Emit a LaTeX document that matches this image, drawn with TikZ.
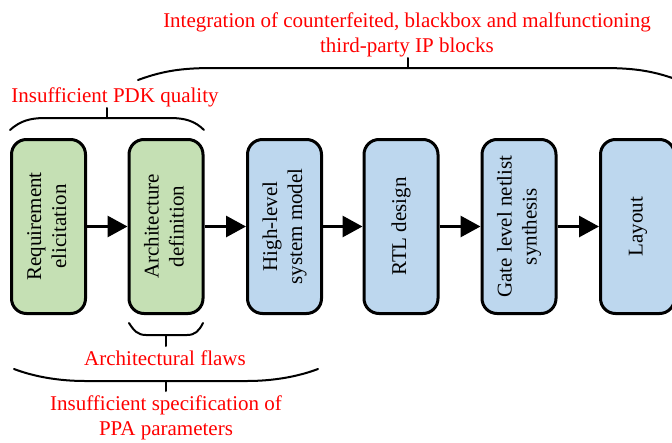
\documentclass[tikz,border=0pt]{standalone}
\usepackage{fontspec}
\setmainfont{Liberation Serif}
\usepackage{graphicx}
\usetikzlibrary{arrows.meta}
\definecolor{specgreen}{HTML}{C5E0B4}
\definecolor{implblue}{HTML}{BDD7EE}
\definecolor{issuered}{HTML}{FF0000}
\tikzset{
  stagebox/.style={draw=black, line width=3pt, rounded corners=15pt,
    minimum width=74pt, minimum height=174pt, inner sep=0pt,
    font=\fontsize{21}{25}\selectfont},
  flow/.style={line width=3pt, -{Triangle[length=20pt,width=21pt]}},
  brace/.style={line width=2pt, line cap=round},
  issue/.style={text=issuered, font=\fontsize{21}{25}\selectfont, align=center, inner sep=0pt}
}
\newcommand{\vlabel}[1]{\rotatebox{90}{\begin{tabular}{@{}c@{}}#1\end{tabular}}}
\begin{document}
\begin{tikzpicture}[x=1pt, y=-1pt]
\useasboundingbox (0,0) rectangle (672,442);

% design flow stages
\node[stagebox, fill=specgreen] (req)  at (48.5,226.5)  {\vlabel{Requirement\\elicitation}};
\node[stagebox, fill=specgreen] (arch) at (166,226.5)   {\vlabel{Architecture\\definition}};
\node[stagebox, fill=implblue]  (hls)  at (284.5,226.5) {\vlabel{High-level\\system model}};
\node[stagebox, fill=implblue]  (rtl)  at (401,226.5)   {\vlabel{RTL design}};
\node[stagebox, fill=implblue]  (gate) at (519,226.5)   {\vlabel{Gate level netlist\\synthesis}};
\node[stagebox, fill=implblue]  (lay)  at (637.5,226.5) {\vlabel{Layout}};

\draw[flow] (req)  -- (arch);
\draw[flow] (arch) -- (hls);
\draw[flow] (hls)  -- (rtl);
\draw[flow] (rtl)  -- (gate);
\draw[flow] (gate) -- (lay);

% third-party IP brace
\draw[brace] (138,80) .. controls (165,70) and (185,68) .. (215,68) -- (601,68)
  .. controls (631,68) and (651,70) .. (678,80);
\draw[brace] (408,68) -- (408,58);
\node[issue] (ip) at (407,34.5) {Integration of counterfeited, blackbox and malfunctioning\\third-party IP blocks};

% PDK brace
\draw[brace] (10,130) .. controls (20,121) and (30,118) .. (45,118) -- (170,118)
  .. controls (185,118) and (195,121) .. (204,130);
\draw[brace] (107,118) -- (107,108);
\node[issue] (pdk) at (115,97) {Insufficient PDK quality};

% architecture brace
\draw[brace] (129,323) .. controls (134,331) and (138,335) .. (146,335) -- (187,335)
  .. controls (195,335) and (199,331) .. (203,323);
\draw[brace] (166,335) -- (166,346);
\node[issue] (flaws) at (165,358) {Architectural flaws};

% specification brace
\draw[brace] (14,369) .. controls (35,377) and (60,381) .. (85,381) -- (247,381)
  .. controls (272,381) and (297,377) .. (318,369);
\draw[brace] (166,381) -- (166,391);
\node[issue] (ppa) at (166,418) {Insufficient specification of\\PPA parameters};
\end{tikzpicture}
\end{document}
